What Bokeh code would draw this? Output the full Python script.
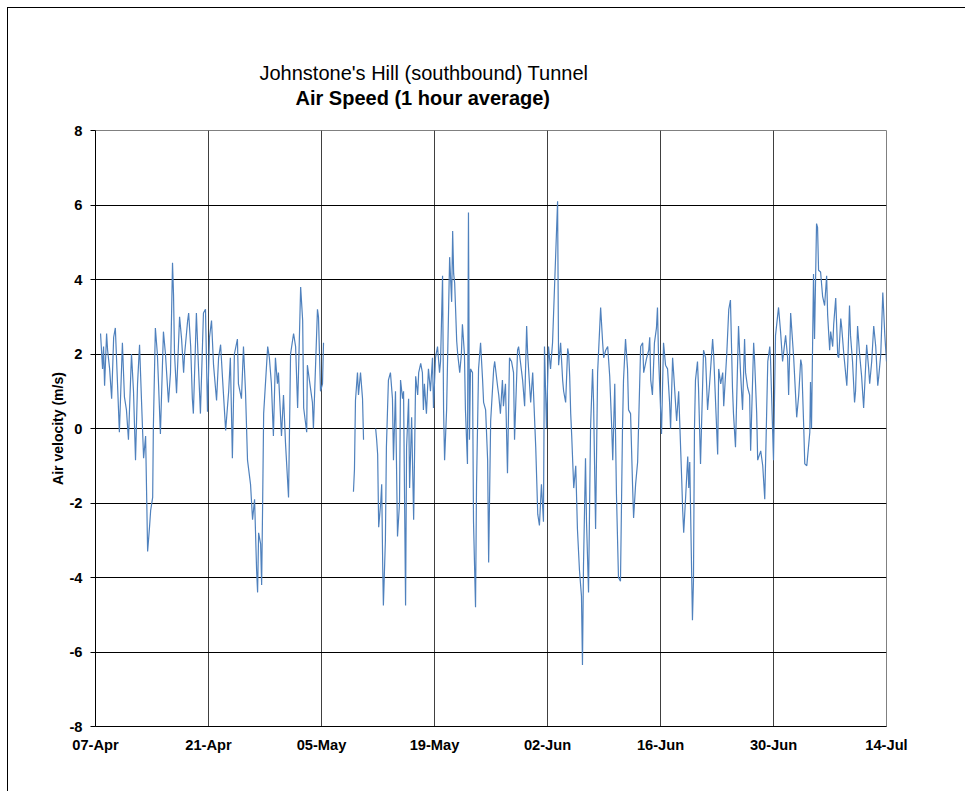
import numpy as np
import pandas as pd
from bokeh.plotting import figure
from bokeh.models import (Title, FixedTicker, DatetimeTickFormatter, Range1d,
                          ColumnDataSource, PrintfTickFormatter)
from bokeh.embed import file_html
from bokeh.resources import INLINE

start_date = "2009-04-07"
end_date = "2009-07-14"
tick_dates = ["2009-04-07", "2009-04-21", "2009-05-05", "2009-05-19",
              "2009-06-02", "2009-06-16", "2009-06-30", "2009-07-14"]
y_ticks = [-8, -6, -4, -2, 0, 2, 4, 6, 8]
nan = float("nan")

# hours since 07-Apr 00:00
hours = [
    15, 21, 24, 27, 33, 36, 42, 48, 54, 59,
    65, 71, 80, 86, 92, 98, 107, 113, 119, 125,
    131, 137, 143, 149, 155, 161, 164, 170, 172, 178,
    184, 187, 193, 202, 208, 217, 223, 229, 232, 235,
    241, 250, 256, 262, 265, 274, 277, 283, 288, 291,
    300, 306, 312, 321, 327, 333, 339, 345, 351, 360,
    366, 372, 378, 387, 396, 401, 407, 413, 422, 425,
    434, 440, 446, 452, 461, 467, 473, 479, 482, 485,
    491, 494, 497, 500, 512, 517, 523, 529, 535, 541,
    544, 553, 559, 565, 574, 580, 589, 595, 601, 610,
    616, 619, 628, 630, 636, 645, 648, 660, 663, 669,
    675, 678, 723, 767, 770, 773, 779, 782, 788, 794,
    797, 815, 833, 836, 839, 842, 848, 851, 854, 856,
    862, 865, 868, 871, 877, 883, 886, 892, 898, 904,
    907, 913, 916, 922, 925, 931, 934, 940, 946, 952,
    958, 961, 967, 972, 975, 978, 984, 990, 996, 1002,
    1005, 1011, 1017, 1023, 1026, 1032, 1035, 1038, 1044, 1047,
    1053, 1059, 1062, 1065, 1068, 1074, 1077, 1083, 1088, 1091,
    1097, 1100, 1106, 1109, 1112, 1115, 1121, 1124, 1130, 1133,
    1139, 1145, 1151, 1154, 1160, 1166, 1169, 1175, 1184, 1187,
    1196, 1199, 1204, 1210, 1213, 1219, 1225, 1231, 1237, 1243,
    1246, 1255, 1258, 1270, 1276, 1282, 1285, 1294, 1300, 1309,
    1315, 1320, 1326, 1332, 1335, 1341, 1347, 1353, 1359, 1374,
    1377, 1383, 1389, 1392, 1398, 1404, 1407, 1410, 1413, 1416,
    1422, 1428, 1433, 1439, 1445, 1448, 1451, 1457, 1460, 1466,
    1472, 1478, 1481, 1487, 1493, 1502, 1508, 1511, 1517, 1523,
    1529, 1535, 1538, 1544, 1549, 1555, 1561, 1567, 1570, 1576,
    1582, 1585, 1591, 1597, 1600, 1606, 1612, 1621, 1627, 1630,
    1639, 1645, 1648, 1651, 1656, 1662, 1668, 1671, 1674, 1683,
    1689, 1695, 1701, 1707, 1710, 1716, 1719, 1728, 1734, 1743,
    1746, 1749, 1755, 1761, 1764, 1767, 1775, 1778, 1781, 1784,
    1790, 1793, 1799, 1808, 1814, 1820, 1826, 1835, 1838, 1850,
    1853, 1859, 1865, 1868, 1877, 1883, 1888, 1894, 1897, 1903,
    1912, 1918, 1924, 1930, 1933, 1939, 1945, 1948, 1957, 1960,
    1966, 1969, 1978, 1984, 1990, 1999, 2005, 2007, 2016, 2022,
    2031, 2037, 2043, 2052, 2058, 2061, 2067, 2076, 2085, 2091,
    2097, 2100, 2106, 2109, 2115, 2121, 2124, 2126, 2129, 2135,
    2138, 2144, 2147, 2150, 2156, 2162, 2168, 2174, 2177, 2183,
    2186, 2192, 2195, 2201, 2207, 2210, 2216, 2219, 2225, 2234,
    2237, 2242, 2245, 2251, 2257, 2260, 2266, 2272, 2278, 2284,
    2287, 2293, 2299, 2302, 2308, 2314, 2320, 2326, 2329, 2335,
    2341, 2347, 2352,
]

# air velocity (m/s), hourly averages
air_velocity = [
    2.55, 1.6, 2.2, 1.15, 2.55, 2.1, 1.6, 0.8, 2.45, 2.7,
    1.3, -0.1, 2.3, 0.85, 0.5, -0.3, 2.0, 1.0, -0.85, 1.2,
    2.25, 0.7, -0.8, -0.2, -3.3, -2.6, -2.2, -1.85, 0.0, 2.7,
    2.0, 1.3, -0.15, 2.6, 2.0, 0.7, 1.5, 4.45, 3.6, 2.0,
    0.95, 3.0, 2.4, 1.5, 2.0, 2.9, 3.1, 2.2, 0.8, 0.4,
    3.1, 1.7, 0.4, 3.1, 3.2, 0.45, 2.45, 2.9, 1.7, 0.75,
    1.9, 2.25, 1.3, -0.05, 1.0, 1.9, -0.8, 2.0, 2.4, 1.2,
    0.8, 2.2, 1.0, -0.85, -1.5, -2.45, -1.9, -3.8, -4.4, -2.8,
    -3.1, -4.2, -2.0, 0.4, 2.2, 1.9, 1.2, -0.2, 1.9, 1.2,
    1.5, -0.2, 0.9, -0.4, -1.85, 2.0, 2.55, 2.2, 0.55, 3.8,
    2.9, 0.55, -0.1, 1.7, 1.3, 0.7, 0.0, 3.2, 3.0, 1.0,
    1.2, 2.3, nan, -1.7, -1.1, 0.75, 1.5, 0.9, 1.5, 0.8,
    -0.3, nan, 0.0, -0.3, -0.7, -2.65, -2.0, -1.5, -3.7, -4.75,
    -3.0, -0.5, 0.4, 1.3, 1.5, 0.8, -0.85, 1.0, -2.9, -2.0,
    1.3, 0.8, 1.0, -4.75, -0.5, 0.8, -1.6, 0.3, -2.45, 1.4,
    0.9, 1.5, 1.75, 1.5, 0.5, 1.2, 0.4, 1.6, 1.0, 1.9,
    0.55, 1.9, 2.2, 1.5, 1.8, 4.1, 0.5, -0.85, 0.5, 1.9,
    4.6, 3.4, 5.3, 4.15, 3.9, 2.35, 2.0, 1.5, 2.0, 2.8,
    2.0, 0.5, -0.95, 5.8, -0.3, 1.6, 1.5, -2.5, -4.8, -1.5,
    1.6, 2.3, 1.3, 0.7, 0.5, -0.85, -3.6, 0.2, 1.6, 1.8,
    1.1, 0.9, 0.4, 1.3, 0.6, 1.2, -1.2, 1.9, 1.8, 1.5,
    -0.3, 2.1, 2.2, 1.3, 0.6, 2.75, 2.0, 0.7, 1.5, -0.5,
    -2.3, -2.6, -1.5, -2.5, 2.2, 0.0, 2.2, 1.6, 2.3, 6.1,
    1.7, 2.3, 1.3, 1.0, 0.7, 2.15, 2.0, 1.4, 0.4, -0.2,
    -1.6, -1.0, -2.7, -3.8, -4.5, -6.35, -3.7, -0.8, -2.5, -4.4,
    0.0, 1.6, 0.7, -2.7, 1.5, 3.25, 2.3, 1.9, 2.1, 2.2,
    1.4, 0.0, -0.85, 1.2, -1.75, -4.0, -4.1, 0.0, 1.3, 2.4,
    1.6, 0.5, 0.4, -1.55, -2.4, -1.5, -0.9, 2.2, 2.3, 1.5,
    1.9, 2.1, 2.45, 1.3, 0.9, 2.3, 2.7, 3.25, 2.0, -0.15,
    2.3, 1.7, 1.6, 0.7, 0.0, 1.9, 1.5, 0.2, 1.0, -1.35,
    -2.2, -2.8, -1.8, -0.75, -1.6, -0.9, -5.15, -4.1, 0.0, 1.3,
    1.8, 1.1, -0.95, 2.1, 1.9, 0.5, 1.2, 2.4, 2.0, -0.7,
    1.6, 1.2, 1.5, 0.6, 2.0, 3.2, 3.45, 1.1, 0.4, -0.5,
    2.75, 1.5, 0.5, 2.4, 1.5, 1.1, 0.9, -0.6, 2.3, 1.8,
    0.4, -0.85, -0.6, -1.0, -1.9, 1.8, 2.2, 1.9, -0.85, 2.5,
    3.25, 2.6, 1.8, 2.5, 1.9, 0.9, 3.1, 1.9, 0.3, 0.9,
    1.85, 1.7, 0.0, -0.95, -1.0, -0.4, -0.1, 1.25, 0.0, 4.15,
    2.4, 5.5, 5.4, 4.25, 4.2, 3.55, 3.3, 4.1, 3.05, 2.1,
    2.6, 2.2, 2.8, 3.5, 1.95, 1.9, 2.95, 2.7, 2.0, 1.15,
    1.8, 3.3, 2.5, 1.8, 0.7, 1.0, 2.75, 2.0, 1.4, 0.55,
    1.1, 2.25, 1.6, 1.2, 1.8, 2.75, 2.2, 1.15, 1.4, 2.0,
    3.65, 2.5, 1.8,
]

assert len(hours) == len(air_velocity)

times = pd.Timestamp(start_date) + pd.to_timedelta(np.array(hours), unit="h")
source = ColumnDataSource(data=dict(t=times, v=np.array(air_velocity, dtype=float)))

FONT = "Liberation Sans"

p = figure(
    x_axis_type="datetime",
    x_range=Range1d(pd.Timestamp(start_date), pd.Timestamp(end_date)),
    y_range=Range1d(-8, 8),
    frame_width=791, frame_height=596,
    min_border_left=87, min_border_top=122, min_border_right=79, min_border_bottom=65,
    output_backend="svg", toolbar_location=None, title=None,
    background_fill_color="white", border_fill_color="white",
)
p.styles = {"margin-left": "7px", "margin-top": "7px",
            "border-left": "1px solid #000000", "border-top": "1px solid #000000"}

spacer = Title(text=" ", text_font=FONT, text_font_size="10px", standoff=9)
t2 = Title(text="Air Speed (1 hour average)", align="left", offset=200, standoff=0,
           text_font=FONT, text_font_size="20px", text_font_style="bold", text_color="#000000")
t1 = Title(text="Johnstone's Hill (southbound) Tunnel", align="left", offset=164, standoff=2,
           text_font=FONT, text_font_size="20px", text_font_style="normal", text_color="#000000")
p.add_layout(spacer, "above")
p.add_layout(t2, "above")
p.add_layout(t1, "above")

p.line("t", "v", source=source, line_color="#4F81BD", line_width=1.2)

tick_ms = [pd.Timestamp(d).value / 1e6 for d in tick_dates]
p.xaxis.ticker = FixedTicker(ticks=tick_ms)
fmt = "%d-%b"
p.xaxis.formatter = DatetimeTickFormatter(
    milliseconds=fmt, seconds=fmt, minsec=fmt, minutes=fmt, hourmin=fmt,
    hours=fmt, days=fmt, months=fmt, years=fmt)
p.yaxis.ticker = FixedTicker(ticks=y_ticks)
p.yaxis.formatter = PrintfTickFormatter(format="%d")

for ax in (p.xaxis[0], p.yaxis[0]):
    ax.major_label_text_font = FONT
    ax.major_label_text_font_size = "14.67px"
    ax.major_label_text_font_style = "bold"
    ax.major_label_text_color = "#000000"
    ax.axis_line_color = "#000000"
    ax.axis_line_width = 1
    ax.minor_tick_line_color = None
    ax.major_tick_in = 0

p.xaxis.major_tick_out = 0
p.xaxis.major_label_standoff = 10
p.yaxis.major_tick_out = 5
p.yaxis.major_tick_line_color = "#000000"
p.yaxis.major_label_standoff = 8

p.yaxis.axis_label = "Air velocity (m/s)"
p.yaxis.axis_label_text_font = FONT
p.yaxis.axis_label_text_font_size = "14px"
p.yaxis.axis_label_text_font_style = "bold"
p.yaxis.axis_label_text_color = "#000000"
p.yaxis.axis_label_standoff = 0

p.xgrid.grid_line_color = "#000000"
p.xgrid.grid_line_alpha = 0.75
p.ygrid.grid_line_color = "#000000"
p.ygrid.grid_line_alpha = 1.0
p.outline_line_color = "#808080"
p.outline_line_width = 1

open("out.html", "w").write(file_html(p, INLINE))
